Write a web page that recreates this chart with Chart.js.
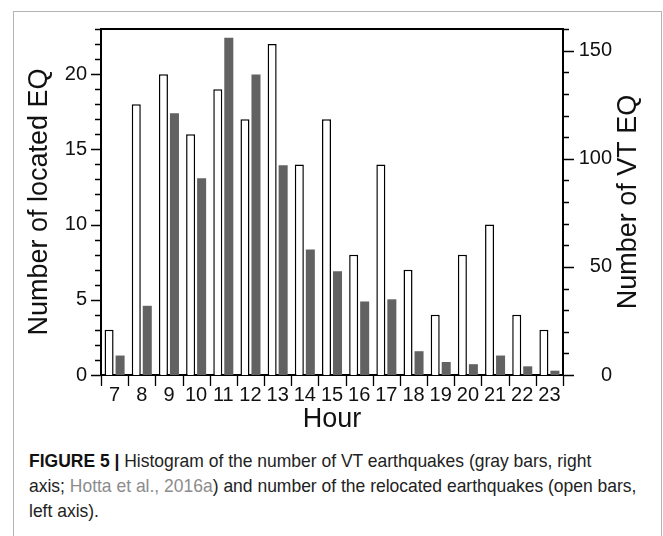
<!DOCTYPE html>
<html>
<head>
<meta charset="utf-8">
<script src="https://cdn.jsdelivr.net/npm/chart.js@4"></script>
<style>
  html, body { margin: 0; padding: 0; background: #fff; }
  body { width: 663px; height: 536px; position: relative; overflow: hidden; }
  .frame {
    position: absolute; left: 13px; top: 11px; width: 649px; height: 600px;
    border: 1.5px solid #b3b3b3; box-sizing: border-box;
  }
  .plot { position: absolute; left: 0; top: 0; width: 663px; height: 440px; }
  .caption {
    position: absolute; left: 29px; top: 448px; width: 700px;
    font-family: "Liberation Sans", Arial, sans-serif;
    font-size: 18.5px; line-height: 25px; color: #222;
    white-space: nowrap;
    transform: scaleX(0.945); transform-origin: left top;
  }
  .caption b { color: #111; }
  .caption .ref { color: #8c8c8c; }
</style>
</head>
<body>
<div class="frame"></div>
<div class="plot"><canvas id="chart" width="663" height="440"></canvas></div>
<div class="caption"><b>FIGURE 5 |</b> Histogram of the number of VT earthquakes (gray bars, right<br>axis; <span class="ref">Hotta et al., 2016a</span>) and number of the relocated earthquakes (open bars,<br>left axis).</div>
<script>
(function () {
    const hours = ['7', '8', '9', '10', '11', '12', '13', '14', '15', '16', '17', '18', '19', '20', '21', '22', '23'];
    const locatedEq = [3, 18, 20, 16, 19, 17, 22, 14, 17, 8, 14, 7, 4, 8, 10, 4, 3];
    const vtEq = [9, 32, 121, 91, 156, 139, 97, 58, 48, 34, 35, 11, 6, 5, 9, 4, 2];
    const leftTicks = [0, 5, 10, 15, 20];
    const rightTicks = [0, 50, 100, 150];

    const fontFamily = '"Liberation Sans", Arial, sans-serif';

    // tick marks, box top line and axis titles
    const decorations = {
        id: 'decorations',
        afterDraw(chart) {
            const ctx = chart.ctx;
            const area = chart.chartArea;
            const y = chart.scales.y;
            const y1 = chart.scales.y1;
            const x = chart.scales.x;
            ctx.save();
            ctx.strokeStyle = '#000';
            ctx.lineWidth = 1.3;
            ctx.beginPath();
            for (let v = 0; v <= y.max; v++) {
                const py = Math.round(y.getPixelForValue(v)) + 0.5;
                const len = leftTicks.includes(v) ? 10 : 6;
                ctx.moveTo(area.left - len, py);
                ctx.lineTo(area.left, py);
            }
            for (let v = 0; v <= y1.max; v += 10) {
                const py = Math.round(y1.getPixelForValue(v)) + 0.5;
                const len = rightTicks.includes(v) ? 11 : 6;
                ctx.moveTo(area.right, py);
                ctx.lineTo(area.right + len, py);
            }
            for (let i = 0; i <= hours.length; i++) {
                const px = Math.round(x.getPixelForValue(i - 0.5)) + 0.5;
                ctx.moveTo(px, area.bottom);
                ctx.lineTo(px, area.bottom + 11);
            }
            ctx.stroke();

            ctx.lineWidth = 2;
            ctx.beginPath();
            ctx.moveTo(area.left - 1, area.top);
            ctx.lineTo(area.right + 1, area.top);
            ctx.stroke();

            ctx.fillStyle = '#111';
            ctx.font = '27px ' + fontFamily;
            ctx.textAlign = 'center';
            ctx.textBaseline = 'middle';
            const midY = (area.top + area.bottom) / 2;
            ctx.save();
            ctx.translate(40, midY);
            ctx.rotate(-Math.PI / 2);
            ctx.fillText('Number of located EQ', 0, 0);
            ctx.restore();
            ctx.save();
            ctx.translate(629, midY);
            ctx.rotate(-Math.PI / 2);
            ctx.fillText('Number of VT EQ', 0, 0);
            ctx.restore();
            ctx.fillText('Hour', (area.left + area.right) / 2, 420);
            ctx.restore();
        }
    };

    new Chart(document.getElementById('chart'), {
        type: 'bar',
        data: {
            labels: hours,
            datasets: [{
                label: 'Number of located EQ',
                data: locatedEq,
                yAxisID: 'y',
                backgroundColor: '#fff',
                borderColor: '#000',
                borderWidth: 1.5,
            }, {
                label: 'Number of VT EQ',
                data: vtEq,
                yAxisID: 'y1',
                backgroundColor: '#626262',
                borderWidth: 0,
            }],
        },
        options: {
            responsive: false,
            animation: false,
            events: [],
            categoryPercentage: 0.81,
            barPercentage: 0.82,
            layout: { padding: { left: 0, right: 51, top: 29, bottom: 0 } },
            plugins: {
                legend: { display: false },
                tooltip: { enabled: false },
            },
            scales: {
                x: {
                    grid: { display: false, drawTicks: false },
                    border: { color: '#000', width: 2 },
                    ticks: {
                        color: '#111', padding: 8, maxRotation: 0, autoSkip: false,
                        font: { family: fontFamily, size: 20 },
                    },
                    afterFit(scale) { scale.height = 65; },
                },
                y: {
                    position: 'left',
                    min: 0, max: 23,
                    grid: { display: false, drawTicks: false },
                    border: { color: '#000', width: 2 },
                    ticks: {
                        stepSize: 1, autoSkip: false, padding: 14, color: '#111',
                        font: { family: fontFamily, size: 20 },
                        callback: (v) => (leftTicks.includes(v) ? v : ''),
                    },
                    afterFit(scale) { scale.width = 101; },
                },
                y1: {
                    position: 'right',
                    min: 0, max: 160,
                    grid: { display: false, drawTicks: false },
                    border: { color: '#000', width: 2 },
                    ticks: {
                        stepSize: 10, autoSkip: false, crossAlign: 'far', color: '#111',
                        font: { family: fontFamily, size: 20 },
                        callback: (v) => (rightTicks.includes(v) ? v : ''),
                    },
                    afterFit(scale) { scale.width = 49; },
                },
            },
        },
        plugins: [decorations],
    });
})();
</script>
</body>
</html>
